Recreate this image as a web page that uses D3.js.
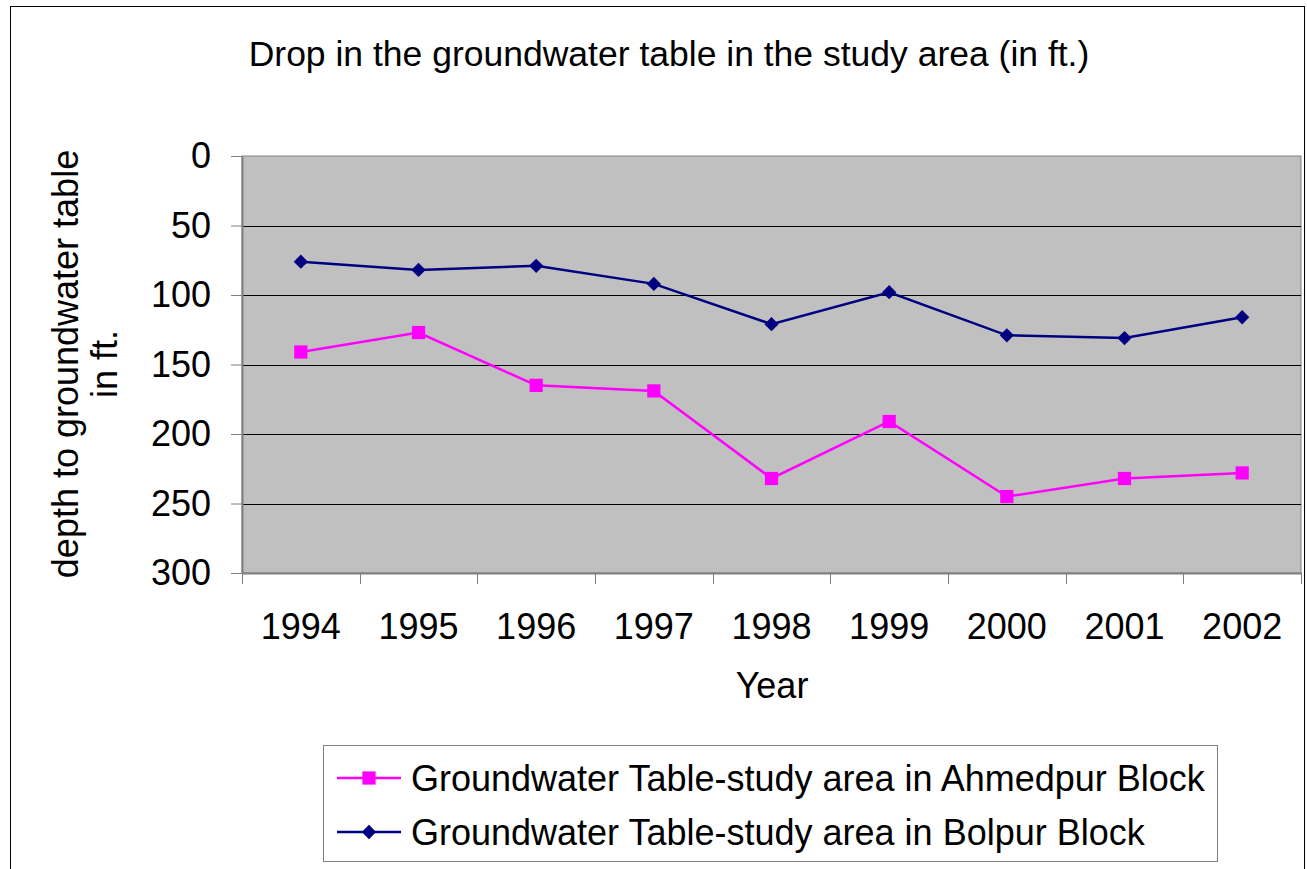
<!DOCTYPE html>
<html>
<head>
<meta charset="utf-8">
<script src="https://cdn.jsdelivr.net/npm/d3@7"></script>
<style>
  body { margin: 0; background: #fff; }
  text { font-family: "Liberation Sans", Arial, sans-serif; }
</style>
</head>
<body>
<svg id="chart"></svg>
<script>
var years = ["1994", "1995", "1996", "1997", "1998", "1999", "2000", "2001", "2002"];
var ahmedpur = [141, 127, 165, 169, 232, 191, 245, 232, 228];
var bolpur = [76, 82, 79, 92, 121, 98, 129, 131, 116];
var yTicks = [0, 50, 100, 150, 200, 250, 300];
var seriesNames = [
  "Groundwater Table-study area in Ahmedpur Block",
  "Groundwater Table-study area in Bolpur Block"
];

var width = 1307, height = 869;
var plotLeft = 242, plotRight = 1301, plotTop = 156, plotBottom = 573;
var fontSize = 36;

var svg = d3.select("#chart")
  .attr("width", width)
  .attr("height", height);

// outer chart border
svg.append("rect")
  .attr("x", 10.5).attr("y", 6.5)
  .attr("width", 1294).attr("height", 870)
  .attr("fill", "#fff")
  .attr("stroke", "#000")
  .attr("stroke-width", 1);

svg.append("text")
  .attr("x", 669).attr("y", 66)
  .attr("text-anchor", "middle")
  .attr("font-size", 35.5)
  .text("Drop in the groundwater table in the study area (in ft.)");

var x = d3.scaleBand().domain(years).range([plotLeft, plotRight]);
var y = d3.scaleLinear().domain([0, 300]).range([plotTop, plotBottom]);

// plot area
svg.append("rect")
  .attr("x", plotLeft).attr("y", plotTop)
  .attr("width", plotRight - plotLeft).attr("height", plotBottom - plotTop)
  .attr("fill", "#c0c0c0")
  .attr("stroke", "#808080")
  .attr("stroke-width", 1);

// gridlines
svg.append("g")
  .selectAll("line")
  .data(yTicks.slice(1, -1))
  .enter().append("line")
    .attr("x1", plotLeft).attr("x2", plotRight)
    .attr("y1", d => Math.round(y(d)) + 0.5)
    .attr("y2", d => Math.round(y(d)) + 0.5)
    .attr("stroke", "#000")
    .attr("stroke-width", 1);

// y axis
var yAxis = svg.append("g")
  .attr("transform", `translate(${plotLeft},0)`)
  .call(d3.axisLeft(y).tickValues(yTicks).tickSize(11).tickSizeOuter(0).tickPadding(20));
yAxis.select(".domain").attr("stroke", "#808080").attr("stroke-width", 2);
yAxis.selectAll(".tick line").attr("stroke", "#808080");
yAxis.selectAll("text").attr("font-size", fontSize).attr("fill", "#000")
  .attr("font-family", "Liberation Sans, Arial, sans-serif");

// x axis, ticks between categories
var xAxis = svg.append("g")
  .attr("transform", `translate(0,${plotBottom})`)
  .call(d3.axisBottom(x).tickSize(0).tickPadding(40));
xAxis.select(".domain").attr("stroke", "#808080").attr("stroke-width", 2);
xAxis.selectAll("text").attr("font-size", fontSize).attr("fill", "#000")
  .attr("font-family", "Liberation Sans, Arial, sans-serif");
var bounds = years.map(d => x(d)).concat([plotRight]);
svg.append("g")
  .selectAll("line")
  .data(bounds)
  .enter().append("line")
    .attr("x1", d => Math.round(d) + 0.5).attr("x2", d => Math.round(d) + 0.5)
    .attr("y1", plotBottom).attr("y2", plotBottom + 11)
    .attr("stroke", "#808080");

svg.append("text")
  .attr("x", 772).attr("y", 698)
  .attr("text-anchor", "middle")
  .attr("font-size", fontSize)
  .text("Year");

var yTitle = svg.append("text")
  .attr("transform", "translate(78,364) rotate(-90)")
  .attr("text-anchor", "middle")
  .attr("font-size", fontSize);
yTitle.append("tspan").attr("x", 0).attr("dy", 0).text("depth to groundwater table");
yTitle.append("tspan").attr("x", 0).attr("dy", 39).text("in ft.");

var cx = d => x(d) + x.bandwidth() / 2;
var line = d3.line().x(d => cx(d.year)).y(d => y(d.v));

var pinkData = years.map((d, i) => ({year: d, v: ahmedpur[i]}));
var blueData = years.map((d, i) => ({year: d, v: bolpur[i]}));

svg.append("path").datum(blueData)
  .attr("d", line).attr("fill", "none")
  .attr("stroke", "#000080").attr("stroke-width", 2.5);
svg.append("path").datum(pinkData)
  .attr("d", line).attr("fill", "none")
  .attr("stroke", "#ff00ff").attr("stroke-width", 2.5);

var diamond = d3.symbol().type(d3.symbolDiamond2).size(130);
var square = d3.symbol().type(d3.symbolSquare).size(175);

svg.append("g").selectAll("path")
  .data(blueData)
  .enter().append("path")
    .attr("d", diamond)
    .attr("transform", d => `translate(${cx(d.year)},${y(d.v)})`)
    .attr("fill", "#000080");
svg.append("g").selectAll("path")
  .data(pinkData)
  .enter().append("path")
    .attr("d", square)
    .attr("transform", d => `translate(${cx(d.year)},${y(d.v)})`)
    .attr("fill", "#ff00ff");

// legend
svg.append("rect")
  .attr("x", 323.5).attr("y", 745.5)
  .attr("width", 894).attr("height", 116)
  .attr("fill", "#fff")
  .attr("stroke", "#808080");

var legendColors = ["#ff00ff", "#000080"];
var legendSymbols = [square, diamond];
var rows = svg.append("g").selectAll("g")
  .data(seriesNames)
  .enter().append("g")
    .attr("transform", (d, i) => `translate(0,${778 + i * 54})`);
rows.append("line")
  .attr("x1", 337).attr("x2", 401)
  .attr("stroke", (d, i) => legendColors[i]).attr("stroke-width", 2.5);
rows.append("path")
  .attr("d", (d, i) => legendSymbols[i]())
  .attr("transform", "translate(369,0)")
  .attr("fill", (d, i) => legendColors[i]);
rows.append("text")
  .attr("x", 411).attr("y", 13)
  .attr("font-size", fontSize)
  .text(d => d);
</script>
</body>
</html>
